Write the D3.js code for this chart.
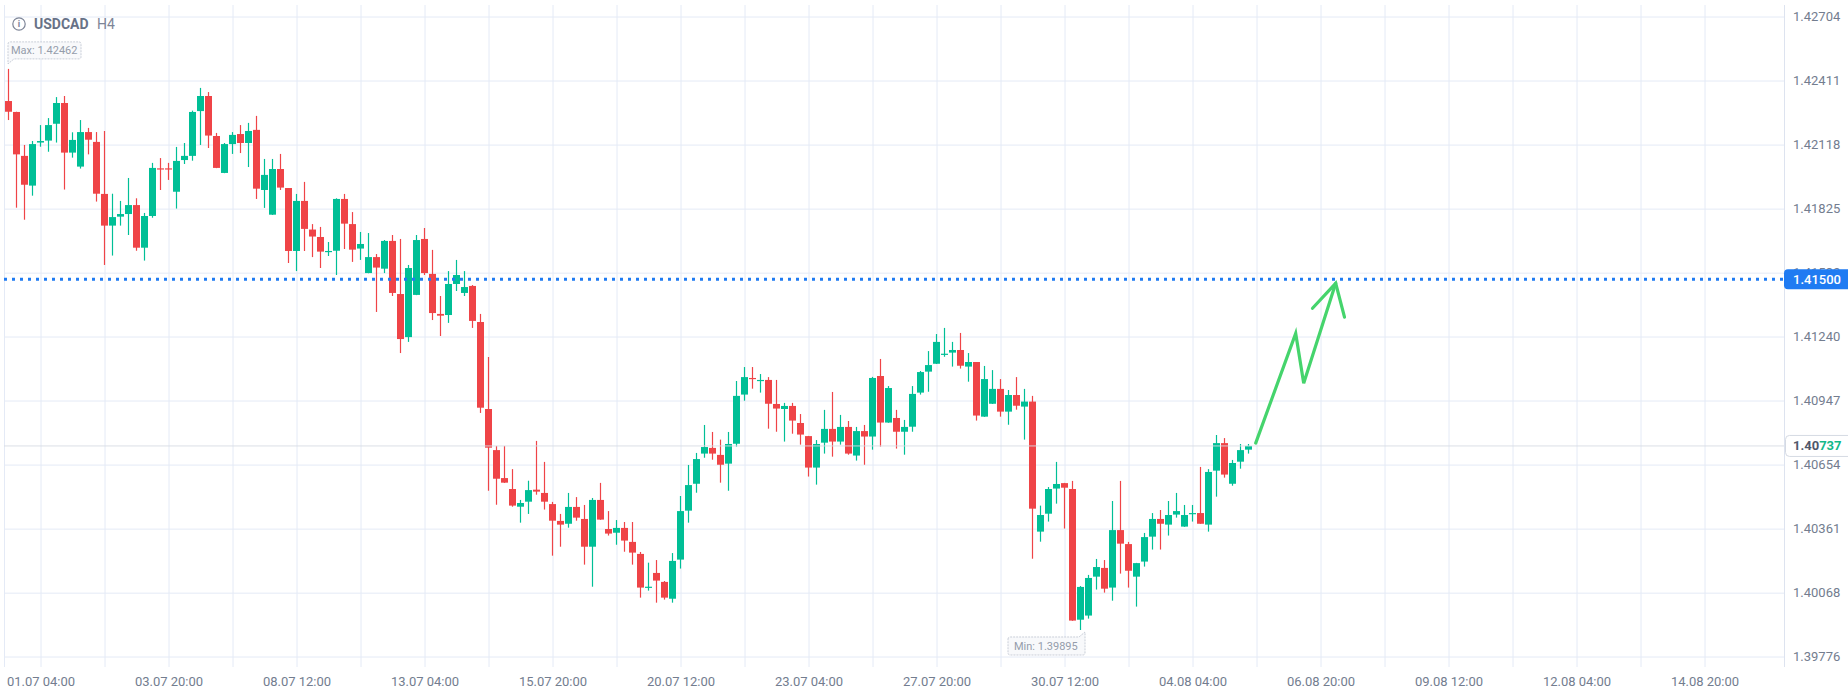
<!DOCTYPE html>
<html>
<head>
<meta charset="utf-8">
<script src="https://cdn.jsdelivr.net/npm/d3@7"></script>
<style>
  html, body { margin: 0; padding: 0; background: #fff; }
  svg { display: block; font-family: Roboto, "Open Sans", sans-serif; }
</style>
</head>
<body>
<div id="chart"></div>
<script>
// USDCAD H4 candles
const opens = [
  1.42315,1.42265,1.42064,1.41928,1.42125,1.42134,1.42211,1.42306,1.42079,1.42015,
  1.42173,1.42128,1.41890,1.41745,1.41786,1.41798,1.41839,1.41644,1.41789,1.42007,
  1.42007,1.41900,1.42045,1.42064,1.42269,1.42338,1.42155,1.41986,1.42118,1.42164,
  1.42123,1.42183,1.41908,1.41795,1.42004,1.41917,1.41629,1.41858,1.41727,1.41693,
  1.41624,1.41630,1.41867,1.41752,1.41640,1.41528,1.41601,1.41548,1.41675,1.41432,
  1.41235,1.41428,1.41684,1.41524,1.41341,1.41336,1.41478,1.41437,1.41469,1.41304,
  1.40906,1.40718,1.40590,1.40540,1.40459,1.40482,1.40537,1.40522,1.40471,1.40394,
  1.40381,1.40458,1.40403,1.40276,1.40490,1.40357,1.40340,1.40362,1.40298,1.40243,
  1.40089,1.40156,1.40115,1.40038,1.40217,1.40441,1.40564,1.40702,1.40728,1.40696,
  1.40656,1.40747,1.40972,1.41048,1.41036,1.41039,1.40929,1.40906,1.40920,1.40842,
  1.40782,1.40638,1.40752,1.40815,1.40757,1.40824,1.40693,1.40805,1.40780,1.41057,
  1.40844,1.40865,1.40802,1.40825,1.40981,1.41077,1.41113,1.41155,1.41164,1.41176,
  1.41100,1.41121,1.40871,1.40930,1.40998,1.40894,1.40970,1.40917,1.40940,1.40345,
  1.40427,1.40542,1.40567,1.40540,1.39942,1.39961,1.40139,1.40179,1.40089,1.40352,
  1.40288,1.40139,1.40208,1.40322,1.40403,1.40377,1.40423,1.40368,1.40426,1.40430,
  1.40377,1.40624,1.40750,1.40564,1.40665,1.40720
];
const highs = [
  1.42462,1.42266,1.42114,1.42132,1.42205,1.42237,1.42333,1.42338,1.42172,1.42228,
  1.42192,1.42173,1.42178,1.41891,1.41858,1.41963,1.41870,1.41803,1.42032,1.42054,
  1.42032,1.42105,1.42123,1.42271,1.42375,1.42356,1.42169,1.42123,1.42173,1.42205,
  1.42215,1.42247,1.42050,1.42050,1.42073,1.41917,1.41890,1.41945,1.41752,1.41739,
  1.41670,1.41870,1.41890,1.41807,1.41716,1.41711,1.41615,1.41679,1.41702,1.41684,
  1.41565,1.41702,1.41734,1.41634,1.41423,1.41537,1.41588,1.41537,1.41473,1.41341,
  1.41144,1.40737,1.40737,1.40631,1.40490,1.40578,1.40760,1.40664,1.40481,1.40426,
  1.40522,1.40503,1.40467,1.40499,1.40568,1.40439,1.40398,1.40389,1.40389,1.40252,
  1.40203,1.40215,1.40119,1.40247,1.40508,1.40650,1.40705,1.40833,1.40801,1.40766,
  1.40801,1.41034,1.41098,1.41098,1.41066,1.41052,1.41039,1.40934,1.40934,1.40883,
  1.40783,1.40764,1.40902,1.40984,1.40879,1.40851,1.40824,1.40833,1.41053,1.41135,
  1.41011,1.40902,1.40856,1.41011,1.41080,1.41171,1.41249,1.41277,1.41213,1.41254,
  1.41162,1.41121,1.41103,1.41084,1.41043,1.40993,1.41052,1.40998,1.40966,1.40464,
  1.40549,1.40664,1.40568,1.40577,1.40096,1.40147,1.40220,1.40215,1.40485,1.40577,
  1.40298,1.40202,1.40339,1.40430,1.40444,1.40485,1.40522,1.40467,1.40467,1.40641,
  1.40631,1.40787,1.40773,1.40673,1.40746,1.40746
];
const lows = [
  1.42228,1.41827,1.41772,1.41882,1.42106,1.42083,1.42125,1.41910,1.42056,1.42006,
  1.42071,1.41855,1.41565,1.41608,1.41745,1.41702,1.41630,1.41585,1.41781,1.41908,
  1.41954,1.41823,1.42027,1.42042,1.42114,1.42100,1.42008,1.41985,1.42073,1.42077,
  1.42013,1.41867,1.41826,1.41794,1.41908,1.41574,1.41537,1.41629,1.41601,1.41551,
  1.41606,1.41519,1.41638,1.41579,1.41588,1.41527,1.41350,1.41528,1.41423,1.41162,
  1.41213,1.41427,1.41519,1.41313,1.41240,1.41300,1.41446,1.41423,1.41277,1.40888,
  1.40532,1.40468,1.40568,1.40459,1.40386,1.40426,1.40514,1.40446,1.40235,1.40276,
  1.40363,1.40395,1.40194,1.40093,1.40399,1.40327,1.40285,1.40253,1.40194,1.40043,
  1.40075,1.40020,1.40034,1.40020,1.40176,1.40386,1.40523,1.40683,1.40674,1.40569,
  1.40532,1.40734,1.40944,1.40999,1.40981,1.40816,1.40802,1.40757,1.40793,1.40743,
  1.40597,1.40560,1.40702,1.40688,1.40743,1.40697,1.40670,1.40651,1.40720,1.40734,
  1.40843,1.40725,1.40697,1.40802,1.40972,1.40985,1.41112,1.41145,1.41100,1.41091,
  1.41031,1.40853,1.40870,1.40929,1.40871,1.40834,1.40903,1.40766,1.40221,1.40299,
  1.40391,1.40473,1.40359,1.39937,1.39895,1.39947,1.40080,1.40066,1.40029,1.40153,
  1.40089,1.40002,1.40185,1.40263,1.40263,1.40327,1.40409,1.40367,1.40391,1.40381,
  1.40345,1.40505,1.40592,1.40555,1.40633,1.40702
];
const closes = [
  1.42266,1.42071,1.41932,1.42118,1.42132,1.42205,1.42306,1.42079,1.42137,1.42173,
  1.42138,1.41891,1.41745,1.41784,1.41798,1.41839,1.41644,1.41789,1.42009,1.42004,
  1.42004,1.42041,1.42064,1.42265,1.42338,1.42157,1.42009,1.42118,1.42160,1.42123,
  1.42178,1.41914,1.41977,1.42004,1.41919,1.41629,1.41858,1.41730,1.41695,1.41626,
  1.41629,1.41867,1.41754,1.41635,1.41661,1.41601,1.41553,1.41675,1.41437,1.41226,
  1.41551,1.41679,1.41528,1.41345,1.41333,1.41478,1.41519,1.41464,1.41309,1.40912,
  1.40729,1.40587,1.40569,1.40464,1.40476,1.40535,1.40528,1.40482,1.40395,1.40377,
  1.40458,1.40409,1.40276,1.40490,1.40400,1.40336,1.40362,1.40304,1.40249,1.40089,
  1.40093,1.40121,1.40043,1.40211,1.40439,1.40558,1.40677,1.40732,1.40702,1.40651,
  1.40746,1.40966,1.41052,1.41043,1.41039,1.40930,1.40908,1.40920,1.40853,1.40789,
  1.40638,1.40746,1.40815,1.40757,1.40824,1.40702,1.40805,1.40780,1.41048,1.40844,
  1.41002,1.40802,1.40824,1.40975,1.41075,1.41107,1.41213,1.41159,1.41176,1.41104,
  1.41121,1.40876,1.41043,1.40998,1.40894,1.40970,1.40921,1.40940,1.40450,1.40421,
  1.40540,1.40563,1.40546,1.39938,1.40092,1.40133,1.40183,1.40084,1.40352,1.40290,
  1.40166,1.40201,1.40320,1.40403,1.40381,1.40421,1.40439,1.40421,1.40430,1.40381,
  1.40618,1.40750,1.40606,1.40659,1.40718,1.40737
];

// axis labels
const xLabels = ["01.07 04:00", "03.07 20:00", "08.07 12:00", "13.07 04:00", "15.07 20:00",
  "20.07 12:00", "23.07 04:00", "27.07 20:00", "30.07 12:00", "04.08 04:00",
  "06.08 20:00", "09.08 12:00", "12.08 04:00", "14.08 20:00"];
const xLabelBars = [4, 20, 36, 52, 68, 84, 100, 116, 132, 148, 164, 180, 196, 212];
const xGridBars = d3.range(4, 213, 8);
const yTicks = [1.39776, 1.40068, 1.40361, 1.40654, 1.40947, 1.41240, 1.41532,
  1.41825, 1.42118, 1.42411, 1.42704];

// levels and the hand-drawn arrow (bar index, price)
const targetLevel = 1.41500;
const lastPrice = 1.40737;
const arrowLine = [[155.9, 1.40750], [160.9, 1.41252], [161.9, 1.41024], [165.9, 1.41481]];
const arrowHead = [[163.0, 1.41367], [165.9, 1.41481], [167.0, 1.41326]];

const W = 1848, H = 695;
const plotLeft = 4, plotRight = 1784, plotTop = 5, plotBottom = 667;
const green = "#00bf96", red = "#ef4447", gridColor = "#e4eaf6", textColor = "#737d8f";

const candles = opens.map((o, i) => ({i, o, h: highs[i], l: lows[i], c: closes[i]}));

const x = d3.scaleLinear().domain([0, 200]).range([8.5, 1608.5]);
const y = d3.scaleLinear().domain([1.39776, 1.42704]).range([656, 16]);

const svg = d3.select("#chart").append("svg")
    .attr("width", W)
    .attr("height", H);

// grid
svg.append("g")
    .attr("transform", `translate(0,${plotBottom})`)
    .call(d3.axisBottom(x).tickValues(xGridBars).tickSize(-(plotBottom - plotTop)).tickFormat(""))
    .call(g => g.select(".domain").remove())
    .call(g => g.selectAll("line").attr("stroke", gridColor));

svg.append("g")
    .attr("transform", `translate(${plotRight},0)`)
    .call(d3.axisLeft(y).tickValues(yTicks).tickSize(plotRight - plotLeft).tickFormat(""))
    .call(g => g.select(".domain").remove())
    .call(g => g.selectAll("line").attr("stroke", gridColor).attr("transform", "translate(0,0.5)"));

// borders
svg.append("line")
    .attr("x1", plotLeft + 0.5).attr("x2", plotLeft + 0.5)
    .attr("y1", plotTop).attr("y2", plotBottom)
    .attr("stroke", gridColor);
svg.append("line")
    .attr("x1", plotRight + 0.5).attr("x2", plotRight + 0.5)
    .attr("y1", plotTop).attr("y2", plotBottom)
    .attr("stroke", "#dde3ef");

// candles
const cg = svg.append("g");
cg.selectAll(".wick")
    .data(candles)
    .enter()
    .append("line")
    .attr("class", "wick")
    .attr("x1", d => x(d.i)).attr("x2", d => x(d.i))
    .attr("y1", d => y(d.h)).attr("y2", d => y(d.l))
    .attr("stroke", d => d.c >= d.o ? green : red)
    .attr("stroke-width", 1.2);

cg.selectAll(".body")
    .data(candles)
    .enter()
    .append("rect")
    .attr("class", "body")
    .attr("x", d => x(d.i) - 3.5)
    .attr("width", 7)
    .attr("y", d => y(Math.max(d.o, d.c)))
    .attr("height", d => Math.max(1.2, Math.abs(y(d.o) - y(d.c))))
    .attr("fill", d => d.c >= d.o ? green : red);

// last price line
svg.append("line")
    .attr("x1", plotLeft).attr("x2", plotRight)
    .attr("y1", y(lastPrice)).attr("y2", y(lastPrice))
    .attr("stroke", "#d7dbe3")
    .attr("stroke-opacity", 0.9);

// target level (dotted)
svg.append("line")
    .attr("x1", plotLeft).attr("x2", plotRight)
    .attr("y1", y(targetLevel)).attr("y2", y(targetLevel))
    .attr("stroke", "#1f7bf2")
    .attr("stroke-width", 3)
    .attr("stroke-dasharray", "3,5");

// arrow drawing
const arrowGen = d3.line().x(d => x(d[0])).y(d => y(d[1]));
[arrowLine, arrowHead].forEach(pts => {
    svg.append("path")
        .attr("d", arrowGen(pts))
        .attr("fill", "none")
        .attr("stroke", "#45d46c")
        .attr("stroke-width", 3.2)
        .attr("stroke-linecap", "round")
        .attr("stroke-linejoin", "miter");
});

// y axis labels
svg.append("g")
    .attr("transform", `translate(${plotRight},0)`)
    .call(d3.axisRight(y).tickValues(yTicks).tickSize(0).tickPadding(9).tickFormat(d3.format(".5f")))
    .call(g => g.select(".domain").remove())
    .call(g => g.selectAll("text")
        .attr("fill", textColor)
        .style("font-size", "13px")
        .style("font-family", "Roboto, sans-serif"));

// x axis labels
svg.append("g")
    .attr("transform", `translate(0,${plotBottom})`)
    .call(d3.axisBottom(x).tickValues(xLabelBars).tickSize(0).tickPadding(10)
        .tickFormat((d, i) => xLabels[i]))
    .call(g => g.select(".domain").remove())
    .call(g => g.selectAll("text")
        .attr("fill", textColor)
        .style("font-size", "13px")
        .style("font-family", "Roboto, sans-serif"));

// target level label
const ty = y(targetLevel);
svg.append("rect")
    .attr("x", plotRight).attr("y", ty - 10)
    .attr("width", 80).attr("height", 20)
    .attr("rx", 4)
    .attr("fill", "#1f7bf2");
svg.append("text")
    .attr("x", plotRight + 9).attr("y", ty)
    .attr("dy", "0.35em")
    .attr("fill", "#fff")
    .style("font-size", "13px")
    .style("font-weight", 500)
    .text(targetLevel.toFixed(5));

// last price label
const ly = y(lastPrice);
svg.append("rect")
    .attr("x", plotRight + 1.5).attr("y", ly - 10.5)
    .attr("width", 80).attr("height", 21)
    .attr("rx", 4)
    .attr("fill", "#fff")
    .attr("stroke", "#d5dae3");
const lpText = lastPrice.toFixed(5);
const lt = svg.append("text")
    .attr("x", plotRight + 9).attr("y", ly)
    .attr("dy", "0.35em")
    .style("font-size", "13px")
    .style("font-weight", 700);
lt.append("tspan").attr("fill", "#4f586b").text(lpText.slice(0, 4));
lt.append("tspan").attr("fill", "#13b889").text(lpText.slice(4));

// max / min markers
const maxI = d3.maxIndex(highs), minI = d3.minIndex(lows);
const mx = x(maxI), my = y(highs[maxI]);
const maxBox = {x: mx - 0.5, y: my - 27, w: 73, h: 17};
svg.append("path")
    .attr("d", `M${maxBox.x},${maxBox.y + 2} a2,2 0 0 1 2,-2 H${maxBox.x + maxBox.w - 2} a2,2 0 0 1 2,2 V${maxBox.y + maxBox.h - 2} a2,2 0 0 1 -2,2 H${maxBox.x + 6} L${maxBox.x},${maxBox.y + maxBox.h + 5} Z`)
    .attr("fill", "#f8f9fb")
    .attr("stroke", "#c9ced8")
    .attr("stroke-dasharray", "2,1");
svg.append("text")
    .attr("x", maxBox.x + 3).attr("y", maxBox.y + maxBox.h / 2)
    .attr("dy", "0.35em")
    .attr("fill", "#959dab")
    .style("font-size", "11px")
    .text("Max: " + highs[maxI].toFixed(5));

const nx = x(minI), ny = y(lows[minI]);
const minBox = {x: nx + 4.5 - 77, y: ny + 7, w: 77, h: 18};
svg.append("path")
    .attr("d", `M${minBox.x},${minBox.y + 2} a2,2 0 0 1 2,-2 H${minBox.x + minBox.w - 6} L${minBox.x + minBox.w},${minBox.y - 5} V${minBox.y + minBox.h - 2} a2,2 0 0 1 -2,2 H${minBox.x + 2} a2,2 0 0 1 -2,-2 Z`)
    .attr("fill", "#f8f9fb")
    .attr("stroke", "#c9ced8")
    .attr("stroke-dasharray", "2,1");
svg.append("text")
    .attr("x", minBox.x + 6).attr("y", minBox.y + minBox.h / 2)
    .attr("dy", "0.35em")
    .attr("fill", "#959dab")
    .style("font-size", "11px")
    .text("Min: " + lows[minI].toFixed(5));

// header
const header = svg.append("g").attr("transform", "translate(19,24)");
header.append("circle")
    .attr("r", 6.2)
    .attr("fill", "none")
    .attr("stroke", "#7d8597")
    .attr("stroke-width", 1.2);
header.append("text")
    .attr("text-anchor", "middle")
    .attr("dy", "0.36em")
    .attr("fill", "#7d8597")
    .style("font-size", "9px")
    .style("font-weight", 700)
    .text("i");
header.append("text")
    .attr("x", 15).attr("dy", "0.36em")
    .attr("fill", "#687287")
    .style("font-size", "14px")
    .style("font-weight", 700)
    .text("USDCAD");
header.append("text")
    .attr("x", 78).attr("dy", "0.36em")
    .attr("fill", "#7d8597")
    .style("font-size", "14px")
    .text("H4");
</script>
</body>
</html>
